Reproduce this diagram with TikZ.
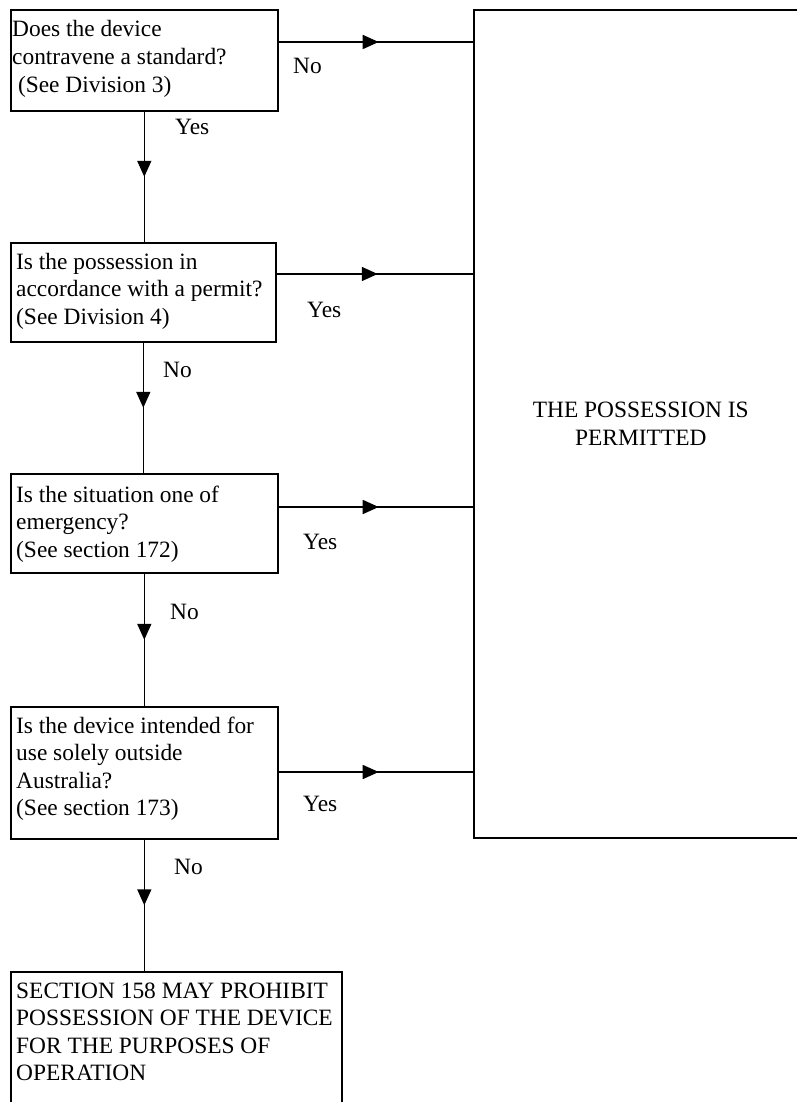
\documentclass[tikz,border=0pt]{standalone}
\usepackage{fontspec}
\setmainfont{Liberation Serif}
\usetikzlibrary{arrows.meta,decorations.markings}
\newcommand{\txtlines}[1]{\parbox[t]{400pt}{\raggedright #1}}
\tikzset{
  every node/.style={font=\fontsize{23.4}{27.6}\selectfont},
  qbox/.style={draw, line width=1.6pt, rectangle, inner sep=0pt, anchor=north west},
  txt/.style={inner sep=0pt, anchor=base west},
  lbl/.style={inner sep=0pt, anchor=base west},
  harrow/.style={line width=1.6pt, postaction={decorate},
    decoration={markings, mark=at position 0.515 with {\arrow{Triangle[length=16pt,width=14pt]}}}},
  varrow/.style={line width=1.6pt, postaction={decorate},
    decoration={markings, mark=at position 0.5 with {\arrow{Triangle[length=16pt,width=14pt]}}}},
}
\begin{document}
\begin{tikzpicture}[x=1pt,y=-1pt]
\clip (0,0) rectangle (797,1102);
\fill[white] (0,0) rectangle (797,1102);
% boxes
\node[qbox, minimum width=267pt, minimum height=101pt] (b1) at (10,9) {};
\node[qbox, minimum width=265pt, minimum height=99pt] (b2) at (10,242) {};
\node[qbox, minimum width=267pt, minimum height=99pt] (b3) at (10,473) {};
\node[qbox, minimum width=267pt, minimum height=132pt] (b4) at (10,706) {};
\node[qbox, minimum width=331pt, minimum height=150pt] (b5) at (10,971) {};
\node[qbox, minimum width=334pt, minimum height=828pt, align=center] (big) at (473,9) {THE POSSESSION IS\\PERMITTED};
% texts
\node[txt] (t1) at (12,37) {\txtlines{Does the device\\contravene a standard?\\\hspace*{0.25em}(See Division 3)}};
\node[txt] (t2) at (16,269) {\txtlines{Is the possession in\\accordance with a permit?\\(See Division 4)}};
\node[txt] (t3) at (16,502) {\txtlines{Is the situation one of\\emergency?\\(See section 172)}};
\node[txt] (t4) at (16,733) {\txtlines{Is the device intended for\\use solely outside\\Australia?\\(See section 173)}};
\node[txt] (t5) at (16,998) {\txtlines{SECTION 158 MAY PROHIBIT\\POSSESSION OF THE DEVICE\\FOR THE PURPOSES OF\\OPERATION}};
% horizontal connectors
\draw[harrow] ([yshift=-33pt]b1.north east) coordinate (h1) -- (h1 -| big.west);
\draw[harrow] ([yshift=-32pt]b2.north east) coordinate (h2) -- (h2 -| big.west);
\draw[harrow] ([yshift=-34pt]b3.north east) coordinate (h3) -- (h3 -| big.west);
\draw[harrow] ([yshift=-66pt]b4.north east) coordinate (h4) -- (h4 -| big.west);
% vertical connectors
\draw[varrow] (b1.south) -- (b1.south |- b2.north);
\draw[varrow] (b2.south) -- (b2.south |- b3.north);
\draw[varrow] (b3.south) -- (b3.south |- b4.north);
\draw[varrow] (b4.south) -- (b4.south |- b5.north);
% labels
\node[lbl] (l1) at (293,74) {No};
\node[lbl] (l2) at (175,135) {Yes};
\node[lbl] (l3) at (307,317) {Yes};
\node[lbl] (l4) at (163,377) {No};
\node[lbl] (l5) at (303,549) {Yes};
\node[lbl] (l6) at (170,619) {No};
\node[lbl] (l7) at (303,811) {Yes};
\node[lbl] (l8) at (174,874) {No};
\end{tikzpicture}
\end{document}
